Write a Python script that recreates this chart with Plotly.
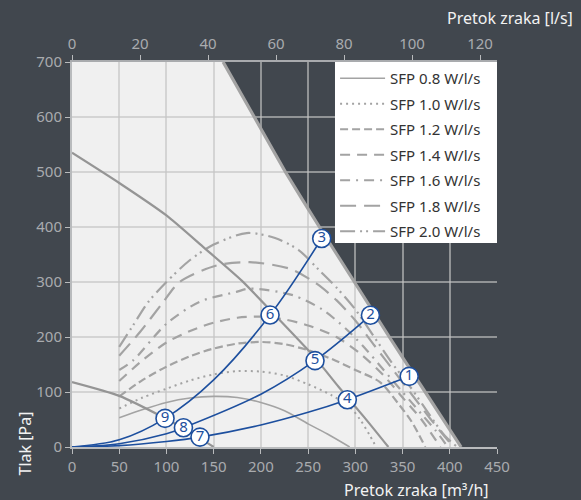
import plotly.graph_objects as go

# ---------------- data ----------------
# working-area boundary (max fan curve), m3/h vs Pa
boundary_x = [160, 193, 226, 262, 299, 336, 374, 412]
boundary_y = [700, 600, 500, 400, 300, 200, 100, 0]

# fan curves (solid, darker grey)
fan_hi_x = [0, 50, 100, 140, 180, 217, 257, 282, 310, 335]
fan_hi_y = [535, 480, 421, 362, 302, 236, 163, 110, 53, 0]
fan_lo_x = [0, 50, 100, 125, 150]
fan_lo_y = [118, 93, 51, 27, 0]

# SFP iso-lines
sfp08_x = [50, 75, 100, 125, 150, 175, 200, 225, 250, 270, 294]
sfp08_y = [53, 68, 81, 89, 92, 90, 81, 66, 42, 24, 0]
sfp10_x = [50, 75, 100, 125, 150, 175, 200, 225, 250, 275, 294, 305, 315, 322]
sfp10_y = [70, 90, 106, 121, 132, 138, 137, 130, 114, 94, 73, 50, 22, 0]
sfp12_x = [50, 75, 100, 125, 150, 175, 200, 225, 250, 275, 300, 326, 345, 360, 374]
sfp12_y = [92, 122, 146, 165, 179, 188, 191, 187, 176, 160, 140, 118, 80, 45, 0]
sfp14_x = [50, 75, 100, 125, 150, 175, 200, 225, 250, 280, 305, 330, 350, 370, 390]
sfp14_y = [120, 158, 190, 211, 226, 235, 237, 232, 221, 200, 170, 130, 90, 50, 0]
sfp16_x = [50, 65, 100, 135, 174, 188, 234, 265, 290, 310, 330, 350, 370, 385, 398]
sfp16_y = [140, 158, 224, 264, 282, 288, 276, 250, 215, 180, 140, 100, 60, 30, 0]
sfp18_x = [50, 72, 95, 114, 153, 188, 231, 259, 280, 300, 320, 340, 360, 380, 395, 404]
sfp18_y = [166, 209, 260, 300, 330, 336, 324, 297, 267, 230, 185, 140, 95, 50, 18, 0]
sfp20_x = [50, 65, 80, 100, 125, 150, 185, 215, 240, 262, 280, 300, 320, 340, 360, 380, 395, 408]
sfp20_y = [182, 222, 262, 300, 340, 368, 389, 380, 358, 321, 290, 250, 200, 150, 105, 55, 20, 0]

sfp_names = ["SFP 0.8 W/l/s", "SFP 1.0 W/l/s", "SFP 1.2 W/l/s", "SFP 1.4 W/l/s",
             "SFP 1.6 W/l/s", "SFP 1.8 W/l/s", "SFP 2.0 W/l/s"]

# system curves (blue)
sysA_x = [0, 50, 100, 135.5, 200, 250, 291.5, 357]
sysA_y = [0, 2.5, 10, 18, 40, 63, 86, 128.5]
sysB_x = [0, 50, 100, 118, 200, 257, 316]
sysB_y = [0, 6, 24, 35, 96, 157, 239.5]
sysC_x = [0, 50, 98.5, 150, 209.7, 264.4]
sysC_y = [0, 13, 52, 122, 240, 379]

# numbered operating points
pt_labels = ["1", "2", "3", "4", "5", "6", "7", "8", "9"]
pt_x = [357, 316, 264.4, 291.5, 257.3, 209.7, 135.5, 118, 98.5]
pt_y = [128.5, 239.5, 379, 86, 157, 240, 18, 35, 52]

x_ticks = [0, 50, 100, 150, 200, 250, 300, 350, 400, 450]
y_ticks = [0, 100, 200, 300, 400, 500, 600, 700]
ls_ticks = [0, 20, 40, 60, 80, 100, 120]

# ---------------- styles ----------------
BG = "#41474e"
LIGHT = "#f0f0f0"
GRID = "rgba(196,196,196,0.62)"
GREY = "#a3a3a3"
FAN = "#959595"
BLUE = "#1d4f9e"
FONT = "Noto Sans"
TICKF = dict(family=FONT, size=15, color="#a9abae")

sfp_series = [
    (sfp08_x, sfp08_y, "solid", 1.6),
    (sfp10_x, sfp10_y, "2px,4px", 2),
    (sfp12_x, sfp12_y, "8px,4px", 2.2),
    (sfp14_x, sfp14_y, "10px,7px", 2.2),
    (sfp16_x, sfp16_y, "10px,6px,2px,6px", 2.2),
    (sfp18_x, sfp18_y, "16px,8px", 2.2),
    (sfp20_x, sfp20_y, "15px,5px,2px,4px,2px,5px", 2.2),
]

fig = go.Figure()

for i, ((xs, ys, dash, w), name) in enumerate(zip(sfp_series, sfp_names)):
    fig.add_trace(go.Scatter(x=xs, y=ys, mode="lines", name=name,
                             legendgroup=f"g{i}",
                             line=dict(color=GREY, width=w, dash=dash, shape="spline", smoothing=0.8),
                             hoverinfo="skip"))

for xs, ys in [(fan_hi_x, fan_hi_y), (fan_lo_x, fan_lo_y)]:
    fig.add_trace(go.Scatter(x=xs, y=ys, mode="lines", showlegend=False,
                             line=dict(color=FAN, width=2.2, shape="spline", smoothing=0.6),
                             hoverinfo="skip"))

fig.add_trace(go.Scatter(x=boundary_x, y=boundary_y, mode="lines", showlegend=False,
                         line=dict(color=GREY, width=3.2, shape="spline", smoothing=0.4),
                         hoverinfo="skip", cliponaxis=False))

for xs, ys in [(sysA_x, sysA_y), (sysB_x, sysB_y), (sysC_x, sysC_y)]:
    fig.add_trace(go.Scatter(x=xs, y=ys, mode="lines", showlegend=False,
                             line=dict(color=BLUE, width=1.6, shape="spline", smoothing=1.0),
                             hoverinfo="skip"))

fig.add_trace(go.Scatter(x=pt_x, y=pt_y, mode="markers+text", text=pt_labels,
                         showlegend=False, textposition="middle center",
                         textfont=dict(family=FONT, size=15, color=BLUE),
                         marker=dict(size=18, color="white", line=dict(color=BLUE, width=1.6)),
                         hoverinfo="skip", cliponaxis=False))

# top axis helper trace
fig.add_trace(go.Scatter(x=[0, 125], y=[0, 0], xaxis="x2", mode="lines",
                         line=dict(width=0), showlegend=False, hoverinfo="skip"))

# light working-area polygon (below grid)
path = "M 0,0 L 0,700 " + " ".join(f"L {bx},{by}" for bx, by in zip(boundary_x, boundary_y)) + " Z"
fig.add_shape(type="path", path=path, xref="x", yref="y", layer="below",
              fillcolor=LIGHT, line=dict(width=0))

# white legend box
fig.add_shape(type="rect", xref="paper", yref="paper", x0=0.6188, x1=1.0, y0=0.530, y1=1.0,
              fillcolor="white", line=dict(width=0), layer="above")

fig.update_layout(
    width=581, height=500,
    paper_bgcolor=BG, plot_bgcolor=BG,
    margin=dict(l=72, r=84, t=62, b=53, autoexpand=False),
    font=dict(family=FONT),
    xaxis=dict(range=[0, 450], tickvals=x_ticks, showgrid=True, gridcolor=GRID, gridwidth=1.5,
               zeroline=False, showline=True, linecolor="#b9bbbd", linewidth=2,
               ticks="outside", ticklen=5, tickcolor="#b9bbbd", tickfont=TICKF),
    xaxis2=dict(range=[0, 125], tickvals=ls_ticks, overlaying="x", side="top",
                showgrid=False, zeroline=False, showline=True, linecolor="#a9abae", linewidth=2,
                ticks="outside", ticklen=5, tickcolor="#b9bbbd", tickfont=TICKF),
    yaxis=dict(range=[0, 700], tickvals=y_ticks, showgrid=True, gridcolor=GRID, gridwidth=1.5,
               zeroline=False, showline=True, linecolor="#b9bbbd", linewidth=2, mirror=False,
               ticks="outside", ticklen=5, tickcolor="#b9bbbd", tickfont=TICKF),
    legend=dict(x=0.619, y=1.0, xanchor="left", yanchor="top", bgcolor="rgba(0,0,0,0)",
                font=dict(family=FONT, size=15, color="#333333"),
                tracegroupgap=3, borderwidth=0, itemwidth=45),
    showlegend=True,
)

fig.add_annotation(text="Pretok zraka [m³/h]", xref="paper", yref="paper", x=0.985, y=-0.112,
                   xanchor="right", yanchor="middle", showarrow=False,
                   font=dict(family=FONT, size=16, color="#f2f2f2"))
fig.add_annotation(text="Pretok zraka [l/s]", xref="paper", yref="paper", x=1.183, y=1.114,
                   xanchor="right", yanchor="middle", showarrow=False,
                   font=dict(family=FONT, size=16, color="#f2f2f2"))
fig.add_annotation(text="Tlak [Pa]", xref="paper", yref="paper", x=-0.11, y=0.01,
                   xanchor="center", yanchor="middle", textangle=-90, showarrow=False,
                   font=dict(family=FONT, size=16, color="#f2f2f2"))

fig.write_html("out.html", config={"displayModeBar": False},
               post_script="document.body.style.margin='0';document.body.style.background='%s';" % BG)
